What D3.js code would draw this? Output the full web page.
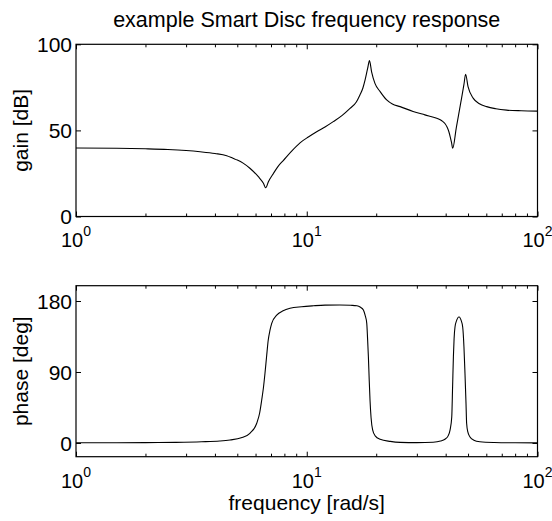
<!DOCTYPE html>
<html>
<head>
<meta charset="utf-8">
<script src="https://cdn.jsdelivr.net/npm/d3@7"></script>
<style>
  html, body { margin: 0; padding: 0; background: #fff; }
  svg { display: block; }
  text { font-family: "Liberation Sans", Arial, Helvetica, sans-serif; fill: #000; }
</style>
</head>
<body>
<svg id="chart" width="552" height="521"></svg>
<script>
// ---------- data ----------
const titleText = "example Smart Disc frequency response";
const gainLabel = "gain [dB]";
const phaseLabel = "phase [deg]";
const freqLabel = "frequency [rad/s]";

const freqTicks = [1, 10, 100];
const freqTickExponents = ["0", "1", "2"];
const gainTicks = [0, 50, 100];
const phaseTicks = [0, 90, 180];

const gainFreq = [1, 1.5, 2, 2.5, 3, 3.45, 4, 4.5, 4.79, 5.0, 5.3, 5.67, 6.17, 6.49, 6.64,
  6.82, 7.17, 7.5, 7.91, 8.6, 9.35, 10.2, 11.04, 12.0, 13.03, 14.2, 15.4, 16.4, 17.0, 17.5,
  17.9, 18.36, 18.7, 19.1, 19.75, 20.8, 22.2, 23.5, 25.4, 28.9, 32.5, 36.6, 38.5, 39.7, 40.6,
  41.3, 41.9, 42.4, 42.9, 44.5, 46.5, 48.0, 48.8, 50.0, 52.7, 56, 60.2, 66, 73.5, 85, 100];
const gainDb = [39.8, 39.6, 39.3, 38.9, 38.3, 37.6, 36.6, 35.3, 33.8, 32.8, 31.0, 28.0, 23.1, 19.3, 16.7,
  20.2, 25.0, 29.0, 32.5, 38.0, 42.8, 46.3, 49.2, 52.0, 55.1, 58.6, 62.8, 66.5, 70.6, 74.5,
  79.3, 86.0, 90.5, 84.0, 77.3, 72.5, 67.7, 65.3, 63.8, 61.0, 59.0, 57.0, 55.6, 54.0, 51.8,
  49.2, 46.0, 43.0, 39.6, 51.8, 66.1, 76.7, 82.6, 75.4, 68.6, 65.5, 63.8, 62.6, 61.8, 61.4, 61.2];

const phaseFreq = [1, 1.5, 2, 2.7, 3.5, 4.2, 4.65, 5.2, 5.67, 6.07, 6.25, 6.38, 6.49, 6.59,
  6.7, 6.81, 6.93, 7.05, 7.41, 7.9, 8.46, 9.5, 10.7, 12, 13.9, 15.5, 16.5, 17.1, 17.6,
  17.9, 18.2, 18.35, 18.5, 18.65, 18.8, 19.0, 19.3, 19.8, 20.8, 23, 25.4, 30, 35.3, 38,
  39.7, 41, 41.8, 42.5, 42.85, 43.2, 43.5, 43.9, 44.7, 45.7, 46.6, 47.4, 48.0, 48.5,
  49.0, 49.3, 49.9, 50.9, 53, 56.3, 65, 80, 100];
const phaseDeg = [0.2, 0.3, 0.5, 0.8, 1.5, 2.5, 3.8, 6.5, 12.3, 25, 38, 54.5, 70, 88,
  110, 130.5, 143, 151.7, 162, 167.5, 170.7, 172.8, 174, 174.8, 175, 174.6, 174, 172, 168.6,
  162, 151.7, 132, 109, 80, 54.5, 32, 16.5, 9, 4.7, 2, 0.8, 0.5, 1, 2.5,
  4.7, 9, 16.5, 33, 70, 109, 132, 147, 156, 160, 156, 147, 122, 88,
  50, 25, 14, 8, 3.5, 1.6, 0.6, 0.2, 0.1];

// ---------- layout ----------
const svg = d3.select("#chart");
svg.append("rect").attr("width", 552).attr("height", 521).attr("fill", "#fff");

const L = 76, R = 537.5;
const panels = [
  { top: 44.3, bottom: 216.5, domain: [0, 100], ticks: gainTicks, label: gainLabel,
    fx: gainFreq, fy: gainDb, xLabelBase: 247 },
  { top: 285.7, bottom: 456.7, domain: [-17.4, 199.4], ticks: phaseTicks, label: phaseLabel,
    fx: phaseFreq, fy: phaseDeg, xLabelBase: 488 }
];

const x = d3.scaleLog().domain([freqTicks[0], freqTicks[freqTicks.length - 1]]).range([L, R]);
const minorTicks = [];
for (let d = 1; d < 100; d *= 10) for (let k = 2; k <= 9; k++) minorTicks.push(d * k);

const majorLen = 5, minorLen = 3;

panels.forEach(p => {
  const y = d3.scaleLinear().domain(p.domain).range([p.bottom, p.top]);
  const g = svg.append("g");

  // data line
  const pts = p.fx.map((f, i) => [f, p.fy[i]]);
  const line = d3.line().x(d => x(d[0])).y(d => y(d[1])).curve(d3.curveMonotoneX);
  g.append("path").datum(pts).attr("d", line)
    .attr("fill", "none").attr("stroke", "#000").attr("stroke-width", 1.1);

  // inward ticks via d3 axes
  const axB = d3.axisBottom(x).tickValues(freqTicks).tickSizeInner(-majorLen).tickSizeOuter(0).tickFormat("");
  const axBm = d3.axisBottom(x).tickValues(minorTicks).tickSizeInner(-minorLen).tickSizeOuter(0).tickFormat("");
  const axT = d3.axisTop(x).tickValues(freqTicks).tickSizeInner(-majorLen).tickSizeOuter(0).tickFormat("");
  const axTm = d3.axisTop(x).tickValues(minorTicks).tickSizeInner(-minorLen).tickSizeOuter(0).tickFormat("");
  const axL = d3.axisLeft(y).tickValues(p.ticks).tickSizeInner(-majorLen).tickSizeOuter(0).tickFormat("");
  const axR = d3.axisRight(y).tickValues(p.ticks).tickSizeInner(-majorLen).tickSizeOuter(0).tickFormat("");

  [[axB, `translate(0,${p.bottom})`], [axBm, `translate(0,${p.bottom})`],
   [axT, `translate(0,${p.top})`], [axTm, `translate(0,${p.top})`],
   [axL, `translate(${L},0)`], [axR, `translate(${R},0)`]].forEach(([ax, tr]) => {
    const a = g.append("g").attr("transform", tr).call(ax);
    a.select(".domain").remove();
    a.selectAll("line").attr("stroke", "#000").attr("stroke-width", 1);
  });

  // box
  g.append("rect").attr("x", L).attr("y", p.top).attr("width", R - L).attr("height", p.bottom - p.top)
    .attr("fill", "none").attr("stroke", "#000").attr("stroke-width", 1.2);

  // y tick labels
  g.selectAll(".ylab").data(p.ticks).enter().append("text")
    .attr("x", L - 4).attr("y", d => y(d)).attr("dy", "0.36em")
    .attr("text-anchor", "end").attr("font-size", 21).text(d => d);

  // x tick labels 10^n
  const xl = g.selectAll(".xlab").data(freqTicks).enter().append("text")
    .attr("x", d => x(d)).attr("y", p.xLabelBase)
    .attr("text-anchor", "middle").attr("font-size", 20);
  xl.append("tspan").text("10");
  xl.append("tspan").attr("font-size", 14).attr("dy", -11).text((d, i) => freqTickExponents[i]);

  // y axis label
  g.append("text")
    .attr("transform", `translate(28,${(p.top + p.bottom) / 2}) rotate(-90)`)
    .attr("text-anchor", "middle").attr("font-size", 21).text(p.label);
});

// title
svg.append("text").attr("x", (L + R) / 2).attr("y", 27)
  .attr("text-anchor", "middle").attr("font-size", 21.5).text(titleText);

// x label
svg.append("text").attr("x", (L + R) / 2).attr("y", 510)
  .attr("text-anchor", "middle").attr("font-size", 21).text(freqLabel);
</script>
</body>
</html>
